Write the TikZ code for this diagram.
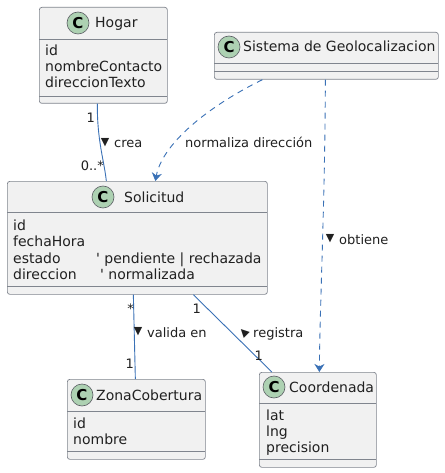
\documentclass[tikz,border=0pt]{standalone}
\usepackage{fontspec}
\setmainfont{DejaVu Sans}[Ligatures=TeXOff]
\usetikzlibrary{arrows.meta, positioning}

\definecolor{classfill}{HTML}{F1F1F1}
\definecolor{classline}{HTML}{80858E}
\definecolor{linkblue}{HTML}{3A71B6}
\definecolor{iconfill}{HTML}{ADD1B2}
\definecolor{txt}{HTML}{202020}

\begin{document}
\begin{tikzpicture}[x=1pt, y=-1pt,
    classbox/.style={draw=classline, fill=classfill, line width=0.7pt, rounded corners=2.5pt, inner sep=0pt, anchor=north west},
    icon/.style={circle, draw=classline!70!black, line width=0.6pt, fill=iconfill, minimum size=22pt, inner sep=0pt, font=\bfseries\fontsize{15}{15}\selectfont},
    cname/.style={anchor=base west, inner sep=0pt, text=txt, font=\fontsize{14}{16}\selectfont},
    attr/.style={anchor=base west, inner sep=0pt, text=txt, font=\fontsize{14}{16}\selectfont},
    lbl/.style={anchor=base west, inner sep=0pt, text=txt, font=\fontsize{13}{15}\selectfont},
    tri/.style={inner sep=0pt, text=txt, font=\fontsize{11}{11}\selectfont},
    assoc/.style={draw=linkblue, line width=0.9pt},
    dep/.style={draw=linkblue, line width=0.9pt, dash pattern=on 6pt off 5pt, -{Stealth[length=8pt, width=10pt, inset=2.5pt, fill=linkblue]}}]

    \useasboundingbox[fill=white] (0,0) rectangle (444,473);

    % classes
    \node[classbox, minimum width=128pt, minimum height=96pt] (hogar) at (39,7) {};
    \node[classbox, minimum width=224pt, minimum height=47pt] (sistema) at (214,32) {};
    \node[classbox, minimum width=260pt, minimum height=113pt] (solicitud) at (7,181) {};
    \node[classbox, minimum width=138pt, minimum height=80pt] (zona) at (67,379) {};
    \node[classbox, minimum width=117pt, minimum height=95pt] (coord) at (259,372) {};

    \draw[classline, line width=0.7pt] (39,39) -- (167,39) (39,96) -- (167,96);
    \draw[classline, line width=0.7pt] (214,63) -- (438,63) (214,71) -- (438,71);
    \draw[classline, line width=0.7pt] (7,212) -- (267,212) (7,286) -- (267,286);
    \draw[classline, line width=0.7pt] (67,411) -- (205,411) (67,451) -- (205,451);
    \draw[classline, line width=0.7pt] (259,403) -- (376,403) (259,459) -- (376,459);

    % headers
    \node[icon] (hogarC) at (78,23) {C};
    \node[cname] (hogarN) at (95,28) {Hogar};
    \node[icon] (sistemaC) at (229,47) {C};
    \node[cname] (sistemaN) at (243,52) {Sistema de Geolocalizacion};
    \node[icon] (solicitudC) at (103,197) {C};
    \node[cname] (solicitudN) at (124,202) {Solicitud};
    \node[icon] (zonaC) at (82,395) {C};
    \node[cname] (zonaN) at (96,400) {ZonaCobertura};
    \node[icon] (coordC) at (274,387) {C};
    \node[cname] (coordN) at (289,392) {Coordenada};

    % attributes
    \node[attr] (h1) at (45,56) {id};
    \node[attr] (h2) at (45,72) {nombreContacto};
    \node[attr] (h3) at (45,88) {direccionTexto};

    \node[attr] (s1) at (13,230) {id};
    \node[attr] (s2) at (13,246) {fechaHora};
    \node[attr] (s3) at (13,263) {estado};
    \node[attr] (s3c) at (96,263) {' pendiente | rechazada};
    \node[attr] (s4) at (13,279) {direccion};
    \node[attr] (s4c) at (100,279) {' normalizada};

    \node[attr] (z1) at (73,428) {id};
    \node[attr] (z2) at (73,444) {nombre};

    \node[attr] (c1) at (266,420) {lat};
    \node[attr] (c2) at (266,436) {lng};
    \node[attr] (c3) at (266,452) {precision};

    % links
    \draw[assoc] ([xshift=-6pt]hogar.south) .. controls (97,140) and (104,160) .. ([xshift=-31pt]solicitud.north);
    \draw[dep] ([xshift=-64pt]sistema.south) .. controls (205,108) and (162,145) .. ([xshift=18pt]solicitud.north);
    \draw[dep] ([xshift=-1pt]sistema.south) .. controls (325,200) and (320,300) .. ([xshift=1.5pt]coord.north);
    \draw[assoc] ([xshift=-4pt]solicitud.south) -- ([xshift=-1pt]zona.north);
    \draw[assoc] ([xshift=56pt]solicitud.south) -- ([xshift=-46pt]coord.north);

    % labels
    \node[lbl, anchor=base east] (m1) at (95,123) {1};
    \node[lbl, anchor=base east] (m2) at (104,170) {0..*};
    \node[tri] (t1) at (105,143) {▼};
    \node[lbl] (l1) at (114,148) {crea};
    \node[lbl] (l2) at (185,148) {normaliza dirección};
    \node[tri] (t2) at (330,239) {▼};
    \node[lbl] (l3) at (339,244) {obtiene};
    \node[lbl, anchor=base east] (m3) at (134,313) {*};
    \node[lbl, anchor=base east] (m4) at (134,368) {1};
    \node[tri] (t3) at (138,332) {▼};
    \node[lbl] (l4) at (147,337) {valida en};
    \node[lbl, anchor=base east] (m5) at (201,313) {1};
    \node[lbl, anchor=base east] (m6) at (263,360) {1};
    \node[tri, rotate=-45] (t4) at (244,332) {◀};
    \node[lbl] (l5) at (253,337) {registra};
\end{tikzpicture}
\end{document}
